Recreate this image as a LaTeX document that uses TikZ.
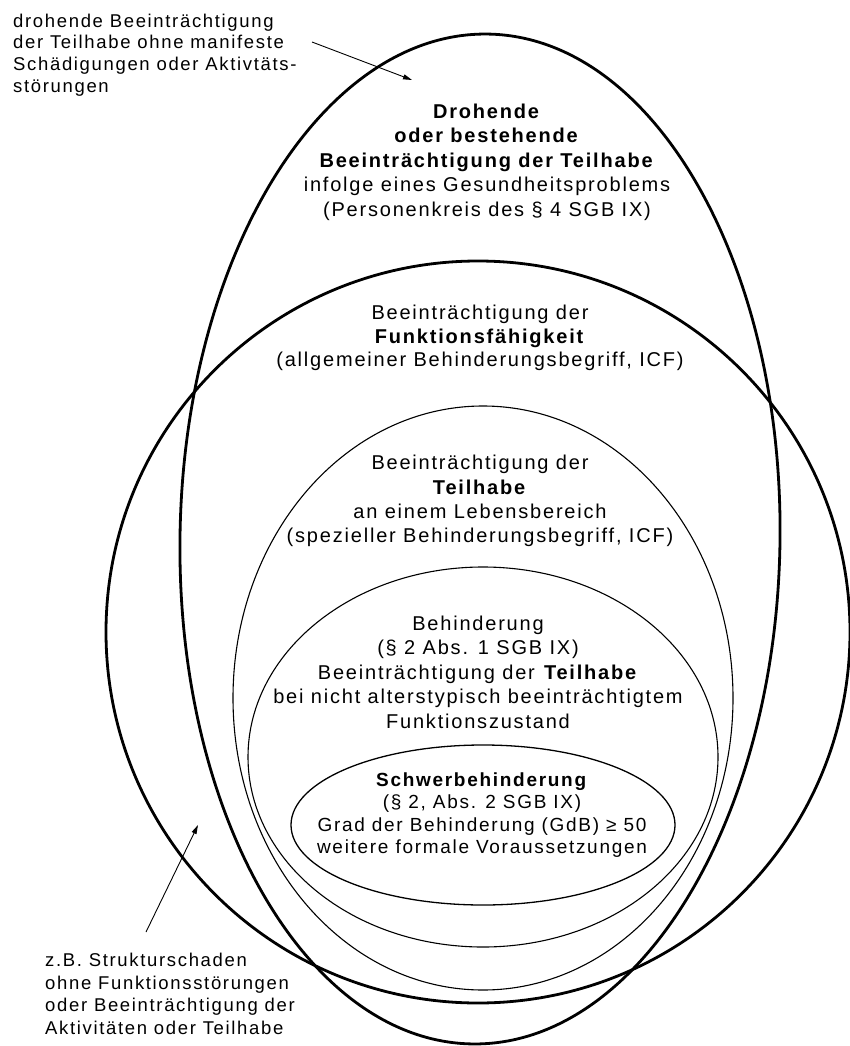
\documentclass[tikz,border=0pt]{standalone}
\usepackage{fontspec}
\setmainfont{Liberation Sans}
\newfontfamily\labfont[LetterSpace=9]{Liberation Sans}
\usetikzlibrary{arrows.meta}
\tikzset{
  thickring/.style={line width=2.8pt},
  thinring/.style={line width=1.1pt},
  midring/.style={line width=1.3pt},
  centertext/.style={align=center, inner sep=0pt, font=\labfont\fontsize{20}{24.5}\selectfont},
  sidetext/.style={align=left, inner sep=0pt, anchor=west, font=\labfont\fontsize{18.5}{21.8}\selectfont},
  pointer/.style={line width=0.9pt, -{Triangle[length=9pt,width=5pt]}}
}
\begin{document}
\begin{tikzpicture}[x=1pt,y=-1pt]
\useasboundingbox (0,0) rectangle (849,1046);
% ellipses
\draw[thickring, rotate around={-0.9:(480,539)}] (480,539) ellipse [x radius=300pt, y radius=505pt];
\draw[thickring] (478,632) ellipse [x radius=372pt, y radius=371pt];
\draw[thinring] (483,698) ellipse [x radius=250pt, y radius=292pt];
\draw[thinring] (483,757) ellipse [x radius=235pt, y radius=190pt];
\draw[midring] (483,825) ellipse [x radius=192pt, y radius=80pt];
% texts
\node[centertext] (drohend) at (487,162) {\textbf{Drohende}\\\textbf{oder bestehende}\\\textbf{Beeinträchtigung der Teilhabe}\\infolge eines Gesundheitsproblems\\(Personenkreis des § 4 SGB IX)};
\node[centertext, font=\labfont\fontsize{20}{23.5}\selectfont] (funktion) at (480,338) {Beeinträchtigung der\\\textbf{Funktionsfähigkeit}\\(allgemeiner Behinderungsbegriff, ICF)};
\node[centertext, font=\labfont\fontsize{20}{24.3}\selectfont] (teilhabe) at (480,501) {Beeinträchtigung der\\\textbf{Teilhabe}\\an einem Lebensbereich\\(spezieller Behinderungsbegriff, ICF)};
\node[centertext] (behind) at (478,672) {Behinderung\\(§ 2 Abs. 1 SGB IX)\\Beeinträchtigung der \textbf{Teilhabe}\\bei nicht alterstypisch beeinträchtigtem\\Funktionszustand};
\node[centertext, font=\labfont\fontsize{19}{22.3}\selectfont] (schwer) at (482,815) {\textbf{Schwerbehinderung}\\(§ 2, Abs. 2 SGB IX)\\Grad der Behinderung (GdB) ≥ 50\\weitere formale Voraussetzungen};
\node[sidetext] (droh) at (13,55) {drohende Beeinträchtigung\\der Teilhabe ohne manifeste\\Schädigungen oder Aktivtäts-\\störungen};
\node[sidetext, font=\labfont\fontsize{18.5}{22.7}\selectfont] (struktur) at (45,994) {z.B. Strukturschaden\\ohne Funktionsstörungen\\oder Beeinträchtigung der\\Aktivitäten oder Teilhabe};
% pointers
\coordinate (p1s) at (312,42);
\coordinate (p1e) at (412,80);
\coordinate (p2s) at (146,932);
\coordinate (p2e) at (198,825);
\draw[pointer] (p1s) -- (p1e);
\draw[pointer] (p2s) -- (p2e);
\end{tikzpicture}
\end{document}
